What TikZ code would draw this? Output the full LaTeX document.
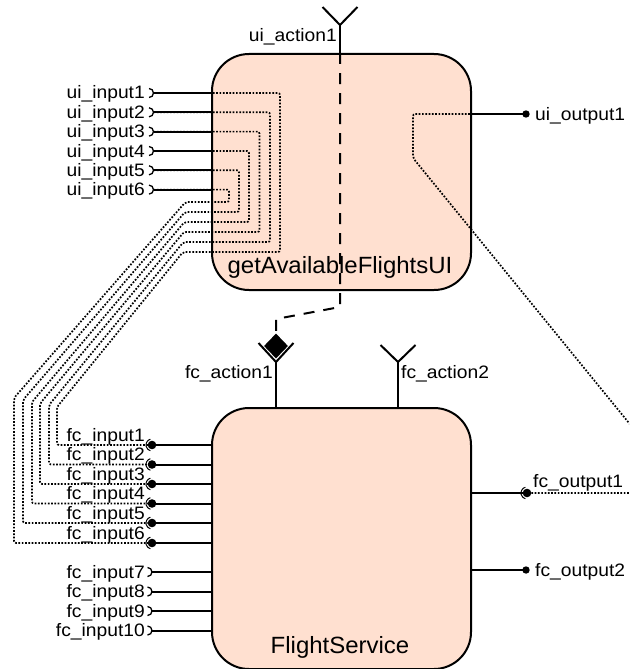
\documentclass[tikz,border=0pt]{standalone}
\usepackage{fontspec}
\setmainfont{Liberation Sans}
\newfontfamily\lblfont{Liberation Sans}[FakeStretch=1.07]
\newfontfamily\ttlfont{Liberation Sans}[FakeStretch=1.02]
\usetikzlibrary{shapes.geometric}
\definecolor{boxfill}{RGB}{255,224,208}
\begin{document}
\begin{tikzpicture}[x=1pt,y=-1pt,
  box/.style={draw, line width=2pt, fill=boxfill, rounded corners=37pt, inner sep=0pt, anchor=north west},
  wire/.style={line width=2pt},
  dotw/.style={line width=1.7pt, dash pattern=on 1.7pt off 1.6pt, rounded corners=2pt},
  dashw/.style={line width=2pt, dash pattern=on 11pt off 9pt},
  lbl/.style={font=\lblfont\fontsize{18}{21}\selectfont, inner sep=0pt},
  ttl/.style={font=\ttlfont\fontsize{23.5}{28}\selectfont, inner sep=0pt, anchor=base}]
\useasboundingbox (0,0) rectangle (629,669);
\clip (0,0) rectangle (629,669);

% boxes
\node[box, minimum width=259pt, minimum height=236pt] (ui) at (211,53) {};
\node[box, minimum width=259pt, minimum height=261pt] (fs) at (211,407) {};
\node[ttl] (uititle) at (340,273) {getAvailableFlightsUI};
\node[ttl] (fstitle) at (340,653) {FlightService};

% port coordinates
\foreach \k/\y in {1/93,2/112.3,3/131.6,4/151,5/170.3,6/189.6}
  \coordinate (uin\k) at (153.5,\y);
\foreach \k/\y in {1/445,2/464.5,3/484,4/503.5,5/523,6/543,7/572,8/591.5,9/611,10/630.5}
  \coordinate (fcin\k) at (152,\y);
\coordinate (uio) at (526,114);
\coordinate (fco) at (527,493);
\coordinate (fco2) at (526,570);
\coordinate (uiact) at (340,25);
\coordinate (fcact1) at (276,362);
\coordinate (fcact2) at (398,362);

% dotted internal connectors
\foreach \k/\t/\b/\c/\v/\d in {1/280/252/183/57/407, 2/270/242/183.5/49/405, 3/259.5/232/184/40/403.5, 4/249/222/184.5/32/402, 5/239/212/185/23/400, 6/229/202/185.5/14/398}
  \draw[dotw] (uin\k) -| (\t,\b) -- (\c,\b) -- (\v,\d) |- (fcin\k);
\draw[dotw] (uio) -- (413,114) -- (413,158) -- (686,493) -- (fco);

% input ports of ui
\foreach \k in {1,...,6} {
  \draw[wire] (uin\k) -- (uin\k -| ui.west);
  \draw[line width=1.3pt] (uin\k) ++(-4.5pt,4.5pt) arc[start angle=90,end angle=-90,radius=4.5pt];
}
% input ports of fs
\foreach \k in {1,...,6} {
  \draw[wire] (fcin\k) -- (fcin\k -| fs.west);
  \fill (fcin\k) circle[radius=4.3pt];
  \draw[line width=1pt] (fcin\k) ++(105:6pt) arc[start angle=105,end angle=255,radius=6pt];
}
\foreach \k in {7,...,10} {
  \draw[wire] (fcin\k) -- (fcin\k -| fs.west);
  \draw[line width=1.3pt] (fcin\k) ++(-4.5pt,4.5pt) arc[start angle=90,end angle=-90,radius=4.5pt];
}

% outputs
\draw[wire] (uio -| ui.east) -- (uio);
\fill (uio) circle[radius=3.7pt];
\draw[wire] (fco -| fs.east) -- (fco);
\fill (fco) circle[radius=4.3pt];
\draw[line width=1pt] (fco) ++(105:6pt) arc[start angle=105,end angle=255,radius=6pt];
\draw[wire] (fco2 -| fs.east) -- (fco2);
\fill (fco2) circle[radius=3.7pt];

% action ports
\draw[wire] (uiact) -- (uiact |- ui.north);
\draw[wire] (uiact) ++(-17.5pt,18pt) -- (uiact) -- ++(17.5pt,18pt);
\draw[wire] (fcact1) -- (fcact1 |- fs.north);
\draw[wire] (fcact1) ++(-17.5pt,19pt) -- (fcact1) -- ++(17.5pt,19pt);
\node[diamond, fill=black, minimum width=24pt, minimum height=25pt, inner sep=0pt] (dia) at (276,346) {};
\draw[wire] (fcact2) -- (fcact2 |- fs.north);
\draw[wire] (fcact2) ++(-17.5pt,17pt) -- (fcact2) -- ++(17.5pt,17pt);

% dashed connector
\coordinate (d1) at (340,307);
\coordinate (d2) at (276,319);
\draw[dashw] (uiact |- ui.north) -- (d1) -- (d2) -- (dia.north);

% labels
\node[lbl, anchor=base east] (l-uiact) at (337,42) {ui\_action1};
\foreach \k in {1,...,6}
  \node[lbl, anchor=base east] (l-uin\k) at ([yshift=-6pt]uin\k -| 145,0) {ui\_input\k};
\node[lbl, anchor=base west] (l-uio) at ([yshift=-6pt]uio -| 535,0) {ui\_output1};
\node[lbl, anchor=base east] (l-fca1) at (273,378) {fc\_action1};
\node[lbl, anchor=base west] (l-fca2) at (401,378) {fc\_action2};
\foreach \k in {1,...,6}
  \node[lbl, anchor=base east] (l-fcin\k) at ([yshift=4pt]fcin\k -| 145,0) {fc\_input\k};
\foreach \k in {7,...,10}
  \node[lbl, anchor=base east] (l-fcin\k) at ([yshift=-6pt]fcin\k -| 145,0) {fc\_input\k};
\node[lbl, anchor=base west] (l-fco) at (533,487) {fc\_output1};
\node[lbl, anchor=base west] (l-fco2) at ([yshift=-6pt]fco2 -| 535,0) {fc\_output2};
\end{tikzpicture}
\end{document}
